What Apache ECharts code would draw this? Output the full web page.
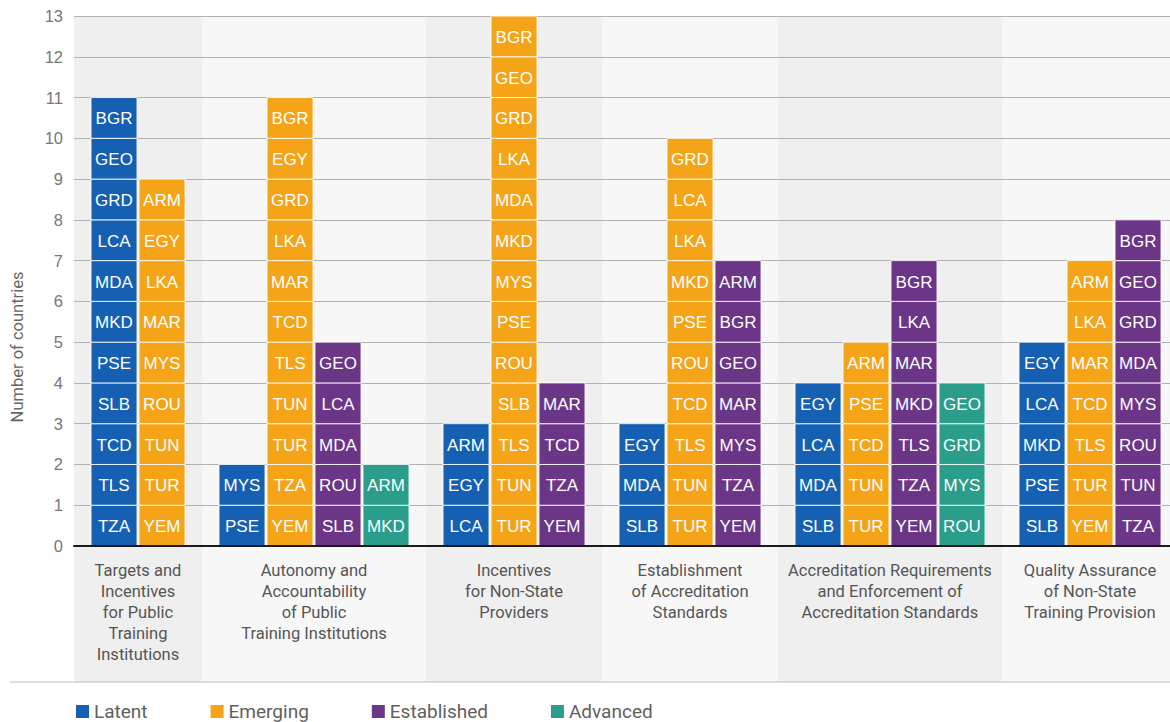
<!DOCTYPE html>
<html>
<head>
<meta charset="utf-8">
<script src="https://cdn.jsdelivr.net/npm/echarts@6/dist/echarts.min.js"></script>
<style>
html,body{margin:0;padding:0;background:#fff;}
#chart{width:1170px;height:722px;}
</style>
</head>
<body>
<div id="chart"></div>
<script>
// ---------- DATA ----------
const categories = [
  "Targets and\nIncentives\nfor Public\nTraining\nInstitutions",
  "Autonomy and\nAccountability\nof Public\nTraining Institutions",
  "Incentives\nfor Non-State\nProviders",
  "Establishment\nof Accreditation\nStandards",
  "Accreditation Requirements\nand Enforcement of\nAccreditation Standards",
  "Quality Assurance\nof Non-State\nTraining Provision"
];
const levelNames = ["Latent", "Emerging", "Established", "Advanced"];
// countries per category, listed bottom to top
const latent = [
  ["TZA","TLS","TCD","SLB","PSE","MKD","MDA","LCA","GRD","GEO","BGR"],
  ["PSE","MYS"],
  ["LCA","EGY","ARM"],
  ["SLB","MDA","EGY"],
  ["SLB","MDA","LCA","EGY"],
  ["SLB","PSE","MKD","LCA","EGY"]
];
const emerging = [
  ["YEM","TUR","TUN","ROU","MYS","MAR","LKA","EGY","ARM"],
  ["YEM","TZA","TUR","TUN","TLS","TCD","MAR","LKA","GRD","EGY","BGR"],
  ["TUR","TUN","TLS","SLB","ROU","PSE","MYS","MKD","MDA","LKA","GRD","GEO","BGR"],
  ["TUR","TUN","TLS","TCD","ROU","PSE","MKD","LKA","LCA","GRD"],
  ["TUR","TUN","TCD","PSE","ARM"],
  ["YEM","TUR","TLS","TCD","MAR","LKA","ARM"]
];
const established = [
  [],
  ["SLB","ROU","MDA","LCA","GEO"],
  ["YEM","TZA","TCD","MAR"],
  ["YEM","TZA","MYS","MAR","GEO","BGR","ARM"],
  ["YEM","TZA","TLS","MKD","MAR","LKA","BGR"],
  ["TZA","TUN","ROU","MYS","MDA","GRD","GEO","BGR"]
];
const advanced = [
  [],
  ["MKD","ARM"],
  [],
  [],
  ["ROU","MYS","GRD","GEO"],
  []
];
const yTicks = {min: 0, max: 13, interval: 1};

// ---------- STYLE ----------
const levelColors = ["#1560b3", "#f5a418", "#6b3588", "#2a9e8a"];
const bandColors = ["#efefef", "#f7f7f7"];
const FONT = "Roboto";
const CELL_FONT = "Liberation Sans";
const PAD = 1/3;         // band padding in slot units
const BAR_FRAC = 46/48;  // bar width within slot
const CLIP_RIGHT = 1/6;  // last band runs past the picture's right edge

// ---------- BUILD ----------
const lists = [latent, emerging, established, advanced];
const cells = levelNames.map(() => ({data: [], names: []}));
const bands = [];
let cursor = 0;
categories.forEach((cat, g) => {
  const present = [0,1,2,3].filter(l => lists[l][g].length > 0);
  const start = cursor;
  present.forEach((l, k) => {
    const xc = start + PAD + k + 0.5;
    lists[l][g].forEach((c, i) => {
      cells[l].data.push([xc, i]);
      cells[l].names.push(c);
    });
  });
  const end = start + 2*PAD + present.length;
  bands.push([start, end, g]);
  cursor = end;
});
const total = cursor;

const chart = echarts.init(document.getElementById('chart'), null, {renderer: 'svg'});

const cellSeries = levelNames.map((name, l) => ({
  type: 'custom',
  name: name,
  itemStyle: {color: levelColors[l]},
  encode: {x: 0, y: 1},
  data: cells[l].data,
  z: 3,
  renderItem: function (params, api) {
    const xc = api.value(0), yi = api.value(1);
    const a = api.coord([xc - BAR_FRAC/2, yi]);
    const b = api.coord([xc + BAR_FRAC/2, yi + 1]);
    return {
      type: 'group',
      children: [
        {type: 'rect', shape: {x: a[0], y: b[1], width: b[0]-a[0], height: a[1]-b[1]},
         style: {fill: levelColors[l], stroke: 'rgba(255,255,255,0.85)', lineWidth: 1}},
        {type: 'text', style: {x: (a[0]+b[0])/2, y: (a[1]+b[1])/2 + 1, text: cells[l].names[params.dataIndex],
         fill: '#ffffff', fontSize: 17, fontFamily: CELL_FONT, align: 'center', verticalAlign: 'middle'}}
      ]
    };
  }
}));

const bandSeries = {
  type: 'custom',
  silent: true,
  z: -1,
  encode: {x: [0, 1]},
  data: bands,
  renderItem: function (params, api) {
    const s = api.value(0), e = api.value(1), g = api.value(2);
    const top = api.coord([s, yTicks.max]);
    const bot = api.coord([e, yTicks.min]);
    const extra = 136;
    return {
      type: 'group',
      children: [
        {type: 'rect', shape: {x: top[0], y: top[1], width: bot[0]-top[0], height: bot[1]-top[1]+extra},
         style: {fill: bandColors[g % 2]}},
        {type: 'text', style: {x: (top[0]+bot[0])/2, y: bot[1] + 14, text: categories[g],
         fill: '#555555', fontSize: 16.5, lineHeight: 21, fontFamily: FONT, align: 'center', verticalAlign: 'top'}}
      ]
    };
  }
};

chart.setOption({
  animation: false,
  backgroundColor: '#ffffff',
  grid: {left: 74, right: 0, top: 16, bottom: 176},
  xAxis: {
    type: 'value', min: 0, max: total - CLIP_RIGHT, z: 10,
    axisLine: {show: true, lineStyle: {color: '#1a1a1a', width: 2}},
    axisTick: {show: false}, axisLabel: {show: false}, splitLine: {show: false}
  },
  yAxis: {
    type: 'value', min: yTicks.min, max: yTicks.max, interval: yTicks.interval,
    axisLine: {show: false}, axisTick: {show: false},
    axisLabel: {color: '#777777', fontSize: 16.5, margin: 11, fontFamily: CELL_FONT},
    splitLine: {lineStyle: {color: '#b2b2b2', width: 1}}
  },
  legend: {
    data: levelNames, left: 76, top: 702, padding: 0, icon: 'rect',
    itemWidth: 13, itemHeight: 13, itemGap: 63,
    textStyle: {fontSize: 19, color: '#606060', fontFamily: FONT}
  },
  graphic: [
    {type: 'text', x: 17, y: 347, rotation: Math.PI/2,
     style: {text: 'Number of countries', fill: '#666666', fontSize: 16.5, fontFamily: FONT, align: 'center', verticalAlign: 'middle'}},
    {type: 'line', shape: {x1: 10, y1: 682, x2: 1170, y2: 682}, style: {stroke: '#d0d0d0', lineWidth: 1.5}}
  ],
  series: [bandSeries].concat(cellSeries)
});
</script>
</body>
</html>
